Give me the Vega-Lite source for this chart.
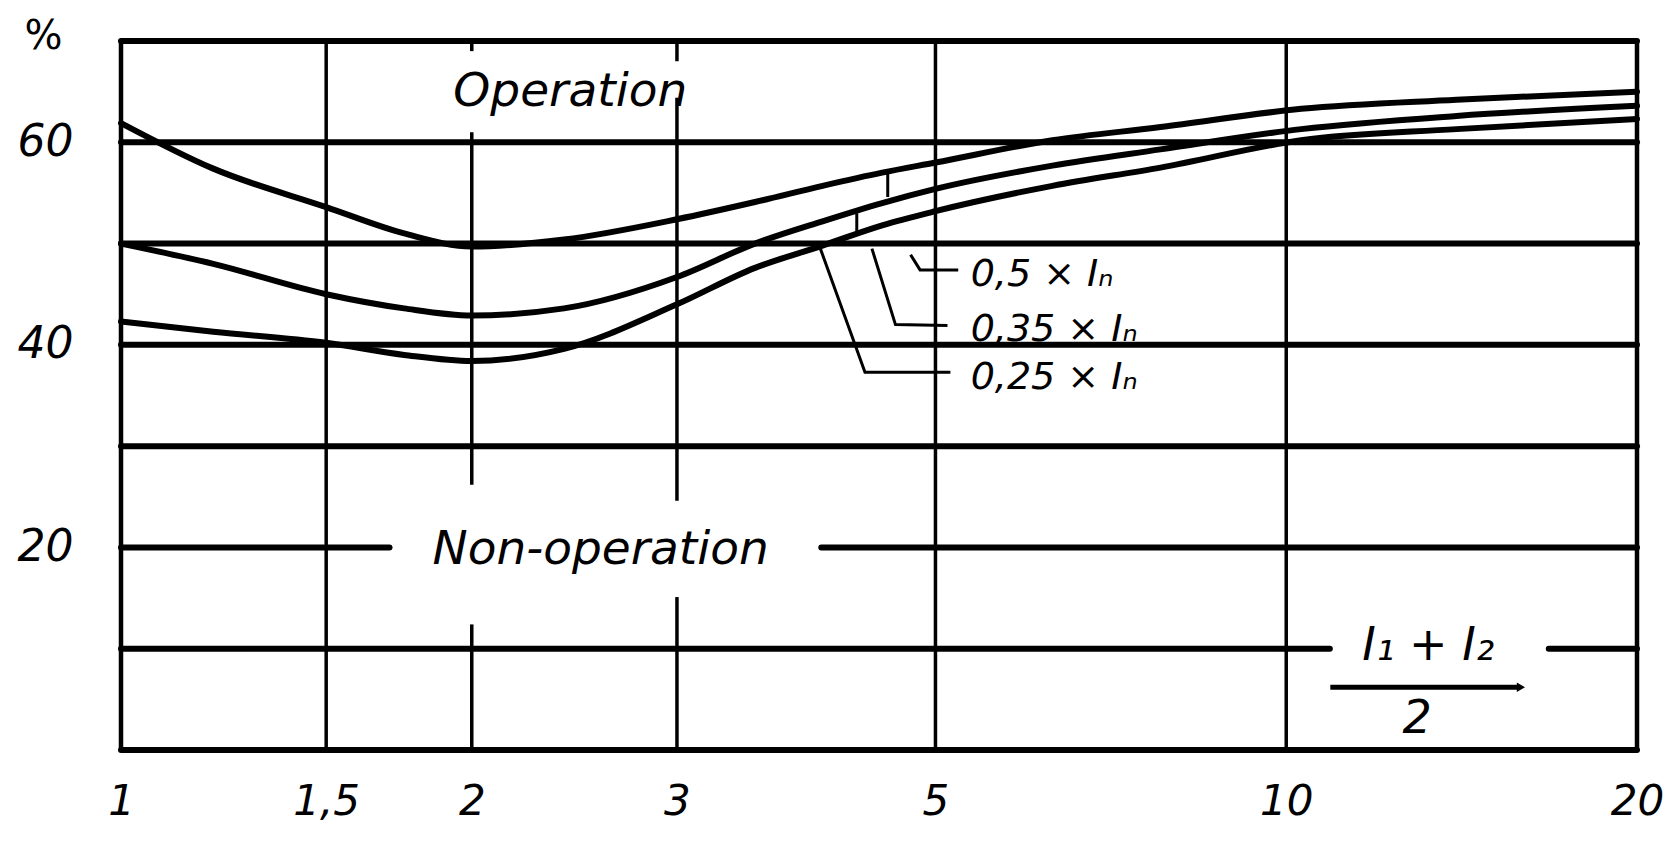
{
  "$schema": "https://vega.github.io/schema/vega-lite/v6.json",
  "width": 1516,
  "height": 709,
  "autosize": {"type": "none"},
  "padding": {"left": 121, "top": 41, "right": 35, "bottom": 93},
  "background": "white",
  "config": {
    "view": {"stroke": null},
    "axis": {
      "grid": false, "domain": false, "ticks": false, "tickSize": 0,
      "labelColor": "black", "labelFont": "DejaVu Sans", "labelFontStyle": "italic",
      "labelFontSize": 42, "labelOverlap": false, "labelFlush": false,
      "titleColor": "black", "titleFont": "DejaVu Sans"
    }
  },
  "datasets": {
    "hgrid": [
      {"y": 0, "x1": 1, "x2": 20},
      {"y": 10, "x1": 1, "x2": 10.9},
      {"y": 10, "x1": 16.8, "x2": 20},
      {"y": 20, "x1": 1, "x2": 1.7},
      {"y": 20, "x1": 3.99, "x2": 20},
      {"y": 30, "x1": 1, "x2": 20},
      {"y": 40, "x1": 1, "x2": 20},
      {"y": 50, "x1": 1, "x2": 20},
      {"y": 60, "x1": 1, "x2": 20},
      {"y": 70, "x1": 1, "x2": 20}
    ],
    "vgrid": [
      {"x": 1.5, "y1": 0, "y2": 70},
      {"x": 2, "y1": 69, "y2": 70},
      {"x": 2, "y1": 26.2, "y2": 61},
      {"x": 2, "y1": 0, "y2": 12.4},
      {"x": 3, "y1": 68, "y2": 70},
      {"x": 3, "y1": 24.6, "y2": 64.4},
      {"x": 3, "y1": 0, "y2": 15.1},
      {"x": 5, "y1": 0, "y2": 70},
      {"x": 10, "y1": 0, "y2": 70}
    ],
    "border": [
      {"x": 1, "y1": 0, "y2": 70},
      {"x": 20, "y1": 0, "y2": 70}
    ],
    "curves": [
      {"curve": "0,5", "x": 1, "y": 61.9},
      {"curve": "0,5", "x": 1.2, "y": 57.4},
      {"curve": "0,5", "x": 1.5, "y": 53.6},
      {"curve": "0,5", "x": 1.75, "y": 51.0},
      {"curve": "0,5", "x": 2, "y": 49.7},
      {"curve": "0,5", "x": 2.4, "y": 50.4},
      {"curve": "0,5", "x": 3, "y": 52.4},
      {"curve": "0,5", "x": 3.5, "y": 54.1},
      {"curve": "0,5", "x": 4, "y": 55.7},
      {"curve": "0,5", "x": 4.5, "y": 57.0},
      {"curve": "0,5", "x": 5, "y": 58.0},
      {"curve": "0,5", "x": 6.3, "y": 60.2},
      {"curve": "0,5", "x": 7.8, "y": 61.5},
      {"curve": "0,5", "x": 10.3, "y": 63.3},
      {"curve": "0,5", "x": 14, "y": 64.2},
      {"curve": "0,5", "x": 20, "y": 65.0},
      {"curve": "0,35", "x": 1, "y": 50.0},
      {"curve": "0,35", "x": 1.2, "y": 48.0},
      {"curve": "0,35", "x": 1.5, "y": 45.0},
      {"curve": "0,35", "x": 1.75, "y": 43.6},
      {"curve": "0,35", "x": 2, "y": 42.9},
      {"curve": "0,35", "x": 2.4, "y": 43.6},
      {"curve": "0,35", "x": 3, "y": 46.7},
      {"curve": "0,35", "x": 3.5, "y": 50.0},
      {"curve": "0,35", "x": 4, "y": 52.2},
      {"curve": "0,35", "x": 4.5, "y": 54.0},
      {"curve": "0,35", "x": 5, "y": 55.4},
      {"curve": "0,35", "x": 6.3, "y": 57.7},
      {"curve": "0,35", "x": 7.8, "y": 59.3},
      {"curve": "0,35", "x": 10.3, "y": 61.3},
      {"curve": "0,35", "x": 14, "y": 62.6},
      {"curve": "0,35", "x": 20, "y": 63.6},
      {"curve": "0,25", "x": 1, "y": 42.3},
      {"curve": "0,25", "x": 1.2, "y": 41.3},
      {"curve": "0,25", "x": 1.5, "y": 40.2},
      {"curve": "0,25", "x": 1.75, "y": 39.0},
      {"curve": "0,25", "x": 2, "y": 38.4},
      {"curve": "0,25", "x": 2.4, "y": 39.6},
      {"curve": "0,25", "x": 3, "y": 44.0},
      {"curve": "0,25", "x": 3.5, "y": 47.6},
      {"curve": "0,25", "x": 4, "y": 49.8},
      {"curve": "0,25", "x": 4.5, "y": 51.8},
      {"curve": "0,25", "x": 5, "y": 53.2},
      {"curve": "0,25", "x": 6.3, "y": 55.7},
      {"curve": "0,25", "x": 7.8, "y": 57.5},
      {"curve": "0,25", "x": 10.3, "y": 60.2},
      {"curve": "0,25", "x": 14, "y": 61.3},
      {"curve": "0,25", "x": 20, "y": 62.3}
    ],
    "leaders": [
      {"id": "a1", "k": 1, "x": 4.55, "y": 57.0},
      {"id": "a1", "k": 2, "x": 4.55, "y": 54.6},
      {"id": "a2", "k": 1, "x": 4.76, "y": 48.9},
      {"id": "a2", "k": 2, "x": 4.85, "y": 47.4},
      {"id": "a2", "k": 3, "x": 5.23, "y": 47.4},
      {"id": "b1", "k": 1, "x": 4.28, "y": 53.0},
      {"id": "b1", "k": 2, "x": 4.28, "y": 51.2},
      {"id": "b2", "k": 1, "x": 4.41, "y": 49.5},
      {"id": "b2", "k": 2, "x": 4.62, "y": 42.0},
      {"id": "b2", "k": 3, "x": 5.12, "y": 41.9},
      {"id": "c1", "k": 1, "x": 3.98, "y": 49.6},
      {"id": "c1", "k": 2, "x": 4.35, "y": 37.3},
      {"id": "c1", "k": 3, "x": 5.15, "y": 37.3}
    ],
    "fracbar": [{"x1": 10.91, "x2": 15.8, "y": 6.2}],
    "arrow": [{"x": 15.9, "y": 6.2}],
    "bigText": [
      {"label": "Operation", "x": 2.43, "y": 63.6},
      {"label": "Non-operation", "x": 2.58, "y": 18.35}
    ],
    "curveLabels": [
      {"label": "0,5 × Iₙ", "x": 5.36, "y": 45.8},
      {"label": "0,35 × Iₙ", "x": 5.36, "y": 40.4},
      {"label": "0,25 × Iₙ", "x": 5.36, "y": 35.6}
    ],
    "fracText": [
      {"label": "I₁ + I₂", "x": 13.24, "y": 8.9},
      {"label": "2", "x": 12.95, "y": 1.7}
    ]
  },
  "layer": [
    {
      "data": {"name": "hgrid"},
      "mark": {"type": "rule", "color": "black", "strokeWidth": 6, "strokeCap": "round"},
      "encoding": {
        "x": {"field": "x1", "type": "quantitative", "title": null,
              "scale": {"type": "log", "domain": [1, 20], "nice": false},
              "axis": {"values": [1, 1.5, 2, 3, 5, 10, 20], "labelExpr": "replace(format(datum.value, '~g'), '.', ',')", "labelPadding": 31, "title": null}},
        "x2": {"field": "x2"},
        "y": {"field": "y", "type": "quantitative", "title": "%",
              "scale": {"domain": [0, 70], "nice": false, "zero": false},
              "axis": {"values": [20, 40, 60], "labelAlign": "right", "labelPadding": 48, "labelFontSize": 44,
                       "title": "%", "titleAngle": 0, "titleX": -78, "titleY": -5, "titleAlign": "center",
                       "titleBaseline": "middle", "titleFontSize": 40, "titleFontWeight": "normal"}}
      }
    },
    {
      "data": {"name": "vgrid"},
      "mark": {"type": "rule", "color": "black", "strokeWidth": 3.5},
      "encoding": {
        "x": {"field": "x", "type": "quantitative", "title": null, "scale": {"type": "log", "domain": [1, 20], "nice": false}},
        "y": {"field": "y1", "type": "quantitative", "title": "%", "scale": {"domain": [0, 70], "nice": false, "zero": false}},
        "y2": {"field": "y2"}
      }
    },
    {
      "data": {"name": "border"},
      "mark": {"type": "rule", "color": "black", "strokeWidth": 4.5, "strokeCap": "round"},
      "encoding": {
        "x": {"field": "x", "type": "quantitative", "title": null, "scale": {"type": "log", "domain": [1, 20], "nice": false}},
        "y": {"field": "y1", "type": "quantitative", "title": "%", "scale": {"domain": [0, 70], "nice": false, "zero": false}},
        "y2": {"field": "y2"}
      }
    },
    {
      "data": {"name": "curves"},
      "mark": {"type": "line", "color": "black", "strokeWidth": 6, "interpolate": "monotone", "strokeCap": "round"},
      "encoding": {
        "x": {"field": "x", "type": "quantitative", "title": null, "scale": {"type": "log", "domain": [1, 20], "nice": false}},
        "y": {"field": "y", "type": "quantitative", "title": "%", "scale": {"domain": [0, 70], "nice": false, "zero": false}},
        "detail": {"field": "curve", "type": "nominal"}
      }
    },
    {
      "data": {"name": "leaders"},
      "mark": {"type": "line", "color": "black", "strokeWidth": 3},
      "encoding": {
        "x": {"field": "x", "type": "quantitative", "title": null, "scale": {"type": "log", "domain": [1, 20], "nice": false}},
        "y": {"field": "y", "type": "quantitative", "title": "%", "scale": {"domain": [0, 70], "nice": false, "zero": false}},
        "detail": {"field": "id", "type": "nominal"},
        "order": {"field": "k", "type": "quantitative"}
      }
    },
    {
      "data": {"name": "fracbar"},
      "mark": {"type": "rule", "color": "black", "strokeWidth": 5},
      "encoding": {
        "x": {"field": "x1", "type": "quantitative", "title": null, "scale": {"type": "log", "domain": [1, 20], "nice": false}},
        "x2": {"field": "x2"},
        "y": {"field": "y", "type": "quantitative", "title": "%", "scale": {"domain": [0, 70], "nice": false, "zero": false}}
      }
    },
    {
      "data": {"name": "arrow"},
      "mark": {"type": "point", "shape": "triangle-right", "filled": true, "color": "black", "size": 90, "opacity": 1},
      "encoding": {
        "x": {"field": "x", "type": "quantitative", "title": null, "scale": {"type": "log", "domain": [1, 20], "nice": false}},
        "y": {"field": "y", "type": "quantitative", "title": "%", "scale": {"domain": [0, 70], "nice": false, "zero": false}}
      }
    },
    {
      "data": {"name": "bigText"},
      "mark": {"type": "text", "font": "DejaVu Sans", "fontStyle": "italic", "fontSize": 47, "align": "center", "baseline": "alphabetic", "color": "black"},
      "encoding": {
        "x": {"field": "x", "type": "quantitative", "title": null, "scale": {"type": "log", "domain": [1, 20], "nice": false}},
        "y": {"field": "y", "type": "quantitative", "title": "%", "scale": {"domain": [0, 70], "nice": false, "zero": false}},
        "text": {"field": "label"}
      }
    },
    {
      "data": {"name": "curveLabels"},
      "mark": {"type": "text", "font": "DejaVu Sans", "fontStyle": "italic", "fontSize": 38, "align": "left", "baseline": "alphabetic", "color": "black"},
      "encoding": {
        "x": {"field": "x", "type": "quantitative", "title": null, "scale": {"type": "log", "domain": [1, 20], "nice": false}},
        "y": {"field": "y", "type": "quantitative", "title": "%", "scale": {"domain": [0, 70], "nice": false, "zero": false}},
        "text": {"field": "label"}
      }
    },
    {
      "data": {"name": "fracText"},
      "mark": {"type": "text", "font": "DejaVu Sans", "fontStyle": "italic", "fontSize": 46, "align": "center", "baseline": "alphabetic", "color": "black"},
      "encoding": {
        "x": {"field": "x", "type": "quantitative", "title": null, "scale": {"type": "log", "domain": [1, 20], "nice": false}},
        "y": {"field": "y", "type": "quantitative", "title": "%", "scale": {"domain": [0, 70], "nice": false, "zero": false}},
        "text": {"field": "label"}
      }
    }
  ]
}
